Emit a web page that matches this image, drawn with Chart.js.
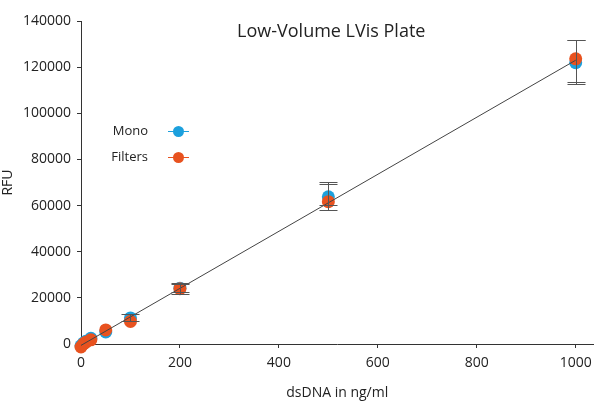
<!DOCTYPE html>
<html lang="en">
<head>
<meta charset="UTF-8">
<title>Low-Volume LVis Plate</title>
<style>
    html, body { margin: 0; padding: 0; background: #fff; }
    #wrap { width: 600px; height: 411px; }
</style>
</head>
<body>
<div id="wrap"><canvas id="chart" width="600" height="411"></canvas></div>
<script src="https://cdn.jsdelivr.net/npm/chart.js"></script>
<script>
// concentrations (ng/ml) and readings
const conc = [0, 5, 10, 20, 50, 100, 200, 500, 1000];
const monoRFU = [-800, 400, 1200, 2500, 5200, 11300, 24200, 63800, 121900];
const filtersRFU = [-1300, 0, 800, 1800, 6100, 9800, 24000, 61700, 123600];

// error bar ends (null = no bar)
const monoHigh = [null, null, null, null, null, 13000, 26500, 70300, 131900];
const monoLow = [null, null, null, null, null, 9800, 21700, 58100, 112800];
const filtersHigh = [null, null, null, null, null, null, 25800, 69400, 131900];
const filtersLow = [null, null, null, null, null, null, 22400, 60300, 113700];

// linear fit
const fitX = [0, 1000];
const fitY = [-600, 123000];

const xTicks = [0, 200, 400, 600, 800, 1000];
const seriesNames = ['Mono', 'Filters'];
const seriesColors = ['#1ca0dd', '#e8521f'];

const FONT = '"Open Sans", sans-serif';
const TEXT = '#222';

function pts(xs, ys) {
    return xs.map((x, i) => ({ x: x, y: ys[i] }));
}

const errorBars = {
    id: 'errorBars',
    afterDatasetsDraw(chart) {
        const ctx = chart.ctx;
        const xs = chart.scales.x, ys = chart.scales.y;
        const sets = [[monoHigh, monoLow], [filtersHigh, filtersLow]];
        ctx.save();
        ctx.strokeStyle = '#555';
        ctx.lineWidth = 1;
        sets.forEach(([hi, lo]) => {
            conc.forEach((c, i) => {
                if (hi[i] == null) return;
                const px = Math.round(xs.getPixelForValue(c)) + 0.5;
                const top = Math.round(ys.getPixelForValue(hi[i])) + 0.5;
                const bot = Math.round(ys.getPixelForValue(lo[i])) + 0.5;
                ctx.beginPath();
                ctx.moveTo(px, top); ctx.lineTo(px, bot);
                ctx.moveTo(px - 9, top); ctx.lineTo(px + 9, top);
                ctx.moveTo(px - 9, bot); ctx.lineTo(px + 9, bot);
                ctx.stroke();
            });
        });
        ctx.restore();
    }
};

const titleAndLegend = {
    id: 'titleAndLegend',
    afterDraw(chart) {
        const ctx = chart.ctx;
        const area = chart.chartArea;
        ctx.save();
        ctx.fillStyle = TEXT;
        ctx.font = '18px ' + FONT;
        ctx.textAlign = 'center';
        ctx.textBaseline = 'middle';
        ctx.fillText('Low-Volume LVis Plate', (area.left + area.right) / 2 - 6, 32);

        ctx.font = '13px ' + FONT;
        ctx.textAlign = 'right';
        seriesNames.forEach((name, i) => {
            const y = 131 + i * 26;
            ctx.fillStyle = TEXT;
            ctx.fillText(name, 148, y);
            ctx.strokeStyle = seriesColors[i];
            ctx.lineWidth = 1;
            ctx.beginPath();
            ctx.moveTo(168, y + 0.5); ctx.lineTo(189, y + 0.5);
            ctx.stroke();
            ctx.fillStyle = seriesColors[i];
            ctx.beginPath();
            ctx.arc(178.5, y + 0.5, 5.5, 0, Math.PI * 2);
            ctx.fill();
        });
        ctx.restore();
    }
};

new Chart(document.getElementById('chart'), {
    type: 'scatter',
    data: {
        datasets: [
            {
                label: 'fit', type: 'line', data: pts(fitX, fitY), order: 0,
                borderColor: '#444', borderWidth: 1, pointRadius: 0, fill: false, clip: false
            },
            {
                label: seriesNames[0], data: pts(conc, monoRFU), order: 2,
                backgroundColor: seriesColors[0], borderWidth: 0, pointRadius: 6.5, clip: false
            },
            {
                label: seriesNames[1], data: pts(conc, filtersRFU), order: 1,
                backgroundColor: seriesColors[1], borderWidth: 0, pointRadius: 6.5, clip: false
            }
        ]
    },
    options: {
        responsive: false,
        animation: false,
        layout: { padding: { top: 21, right: 3, left: 0, bottom: 6 } },
        plugins: { legend: { display: false }, tooltip: { enabled: false } },
        scales: {
            x: {
                type: 'linear', min: 0, max: 1036,
                afterBuildTicks(axis) { axis.ticks = xTicks.map(v => ({ value: v })); },
                afterFit(axis) { axis.height = 61; axis.paddingRight = 0; axis.paddingLeft = 0; },
                border: { color: '#333', width: 1 },
                grid: { drawOnChartArea: false, drawTicks: true, tickLength: 4, color: '#333' },
                ticks: { color: TEXT, font: { family: FONT, size: 14 }, padding: 7, maxRotation: 0,
                         callback: v => String(v) },
                title: { display: true, text: 'dsDNA in ng/ml', color: TEXT, font: { family: FONT, size: 14 }, padding: { top: 2 } }
            },
            y: {
                min: 0, max: 140000,
                afterFit(axis) { axis.width = 81; },
                border: { color: '#333', width: 1 },
                grid: { drawOnChartArea: false, drawTicks: true, tickLength: 4, color: '#333' },
                ticks: { stepSize: 20000, color: TEXT, font: { family: FONT, size: 14 }, padding: 6,
                         callback: v => String(v) },
                title: { display: true, text: 'RFU', color: TEXT, font: { family: FONT, size: 14 }, padding: 0 }
            }
        }
    },
    plugins: [errorBars, titleAndLegend]
});
</script>
</body>
</html>
